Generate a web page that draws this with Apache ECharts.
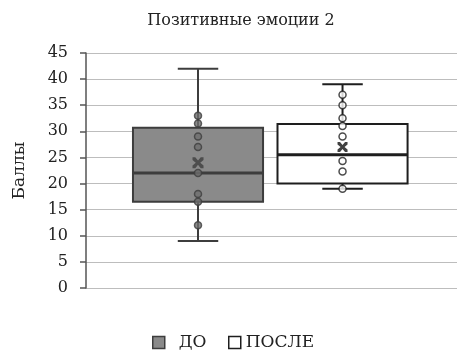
<!DOCTYPE html>
<html>
<head>
<meta charset="utf-8">
<script src="https://cdn.jsdelivr.net/npm/echarts@6/dist/echarts.min.js"></script>
<style>html,body{margin:0;padding:0;background:#fff;}#c{width:457px;height:355px;}</style>
</head>
<body>
<div id="c"></div>
<script>
const titleText = 'Позитивные эмоции 2';
const yAxisName = 'Баллы';
const groups = ['ДО', 'ПОСЛЕ'];
const yTicks = [0, 5, 10, 15, 20, 25, 30, 35, 40, 45];
// [min, Q1, median, Q3, max]
const doStats = [9, 16.5, 22, 30.7, 42];
const posleStats = [19, 20, 25.5, 31.4, 39];
const doMean = 24;
const posleMean = 27;
const doPoints = [33, 31.5, 29, 27, 22, 18, 16.5, 12];
const poslePoints = [37, 35, 32.5, 31, 29, 24.3, 22.3, 19];

const F = 'DejaVu Serif';
const styles = [
  {fill: '#8a8a8a', stroke: '#3d3d3d', lw: 2},
  {fill: '#ffffff', stroke: '#1e1e1e', lw: 2}
];

function renderBox(params, api) {
  const st = styles[params.seriesIndex];
  const x = api.value(0);
  const mn = api.value(1), q1 = api.value(2), md = api.value(3), q3 = api.value(4), mx = api.value(5);
  const bw = api.size([0.9, 0])[0];
  const cw = api.size([0.28, 0])[0];
  const pMin = api.coord([x, mn]), pQ1 = api.coord([x, q1]), pMd = api.coord([x, md]),
        pQ3 = api.coord([x, q3]), pMax = api.coord([x, mx]);
  const cx = pMd[0];
  const ls = {stroke: st.stroke, lineWidth: st.lw};
  return {
    type: 'group',
    children: [
      {type: 'line', shape: {x1: cx, y1: pQ3[1], x2: cx, y2: pMax[1]}, style: ls},
      {type: 'line', shape: {x1: cx, y1: pQ1[1], x2: cx, y2: pMin[1]}, style: ls},
      {type: 'line', shape: {x1: cx - cw / 2, y1: pMax[1], x2: cx + cw / 2, y2: pMax[1]}, style: ls},
      {type: 'line', shape: {x1: cx - cw / 2, y1: pMin[1], x2: cx + cw / 2, y2: pMin[1]}, style: ls},
      {type: 'rect', shape: {x: cx - bw / 2, y: pQ3[1], width: bw, height: pQ1[1] - pQ3[1]},
        style: {fill: st.fill, stroke: st.stroke, lineWidth: st.lw}},
      {type: 'line', shape: {x1: cx - bw / 2, y1: pMd[1], x2: cx + bw / 2, y2: pMd[1]},
        style: {stroke: st.stroke, lineWidth: st.lw + 1}}
    ]
  };
}

const xMark = 'path://M0,0 L2.5,0 L5,3 L7.5,0 L10,0 L10,2.5 L7,5 L10,7.5 L10,10 L7.5,10 L5,7 L2.5,10 L0,10 L0,7.5 L3,5 L0,2.5 Z';

const chart = echarts.init(document.getElementById('c'), null, {renderer: 'canvas'});
chart.setOption({
  animation: false,
  backgroundColor: '#fff',
  title: {
    text: titleText, left: 236, top: 8, textAlign: 'center',
    textStyle: {fontFamily: F, fontSize: 16, fontWeight: 'normal', color: '#222'}
  },
  legend: [
    {data: [{name: groups[0], icon: 'rect', itemStyle: {color: styles[0].fill, borderColor: styles[0].stroke, borderWidth: 1.5}}],
      left: 147, top: 329, itemWidth: 12, itemHeight: 12, selectedMode: false,
      textStyle: {fontFamily: F, fontSize: 17, color: '#222', padding: [0, 0, 0, 9]}},
    {data: [{name: groups[1], icon: 'rect', itemStyle: {color: '#fff', borderColor: styles[1].stroke, borderWidth: 1.5}}],
      left: 223, top: 329, itemWidth: 12, itemHeight: 12, selectedMode: false,
      textStyle: {fontFamily: F, fontSize: 17, color: '#222'}}
  ],
  grid: {left: 86, right: 0, top: 53, bottom: 67},
  xAxis: {type: 'value', min: 0.225, max: 2.792, show: false, splitLine: {show: false}},
  yAxis: {
    type: 'value', min: yTicks[0], max: yTicks[yTicks.length - 1], interval: 5,
    name: yAxisName, nameLocation: 'middle', nameGap: 58, nameRotate: 90,
    nameTextStyle: {fontFamily: F, fontSize: 17, color: '#222'},
    axisLine: {show: true, lineStyle: {color: '#555', width: 1.5}},
    axisTick: {show: true, length: 6, lineStyle: {color: '#555', width: 1.5}},
    axisLabel: {fontFamily: F, fontSize: 16, color: '#222', margin: 18},
    splitLine: {show: true, lineStyle: {color: '#bdbdbd', width: 1}}
  },
  series: [
    {name: groups[0], type: 'custom', renderItem: renderBox, data: [[1].concat(doStats)],
      itemStyle: {color: styles[0].fill}, z: 2},
    {name: groups[1], type: 'custom', renderItem: renderBox, data: [[2].concat(posleStats)],
      itemStyle: {color: '#fff'}, z: 2},
    {type: 'scatter', data: doPoints.map(v => [1, v]), symbol: 'circle', symbolSize: 7, z: 5,
      itemStyle: {color: '#6e6e6e', borderColor: '#3d3d3d', borderWidth: 1.5}},
    {type: 'scatter', data: poslePoints.map(v => [2, v]), symbol: 'circle', symbolSize: 7, z: 5,
      itemStyle: {color: '#fff', borderColor: '#1e1e1e', borderWidth: 1.5}},
    {type: 'scatter', data: [[1, doMean]], symbol: xMark, symbolSize: 11, z: 6,
      itemStyle: {color: '#3d3d3d'}},
    {type: 'scatter', data: [[2, posleMean]], symbol: xMark, symbolSize: 10, z: 6,
      itemStyle: {color: '#111'}}
  ]
});
</script>
</body>
</html>
